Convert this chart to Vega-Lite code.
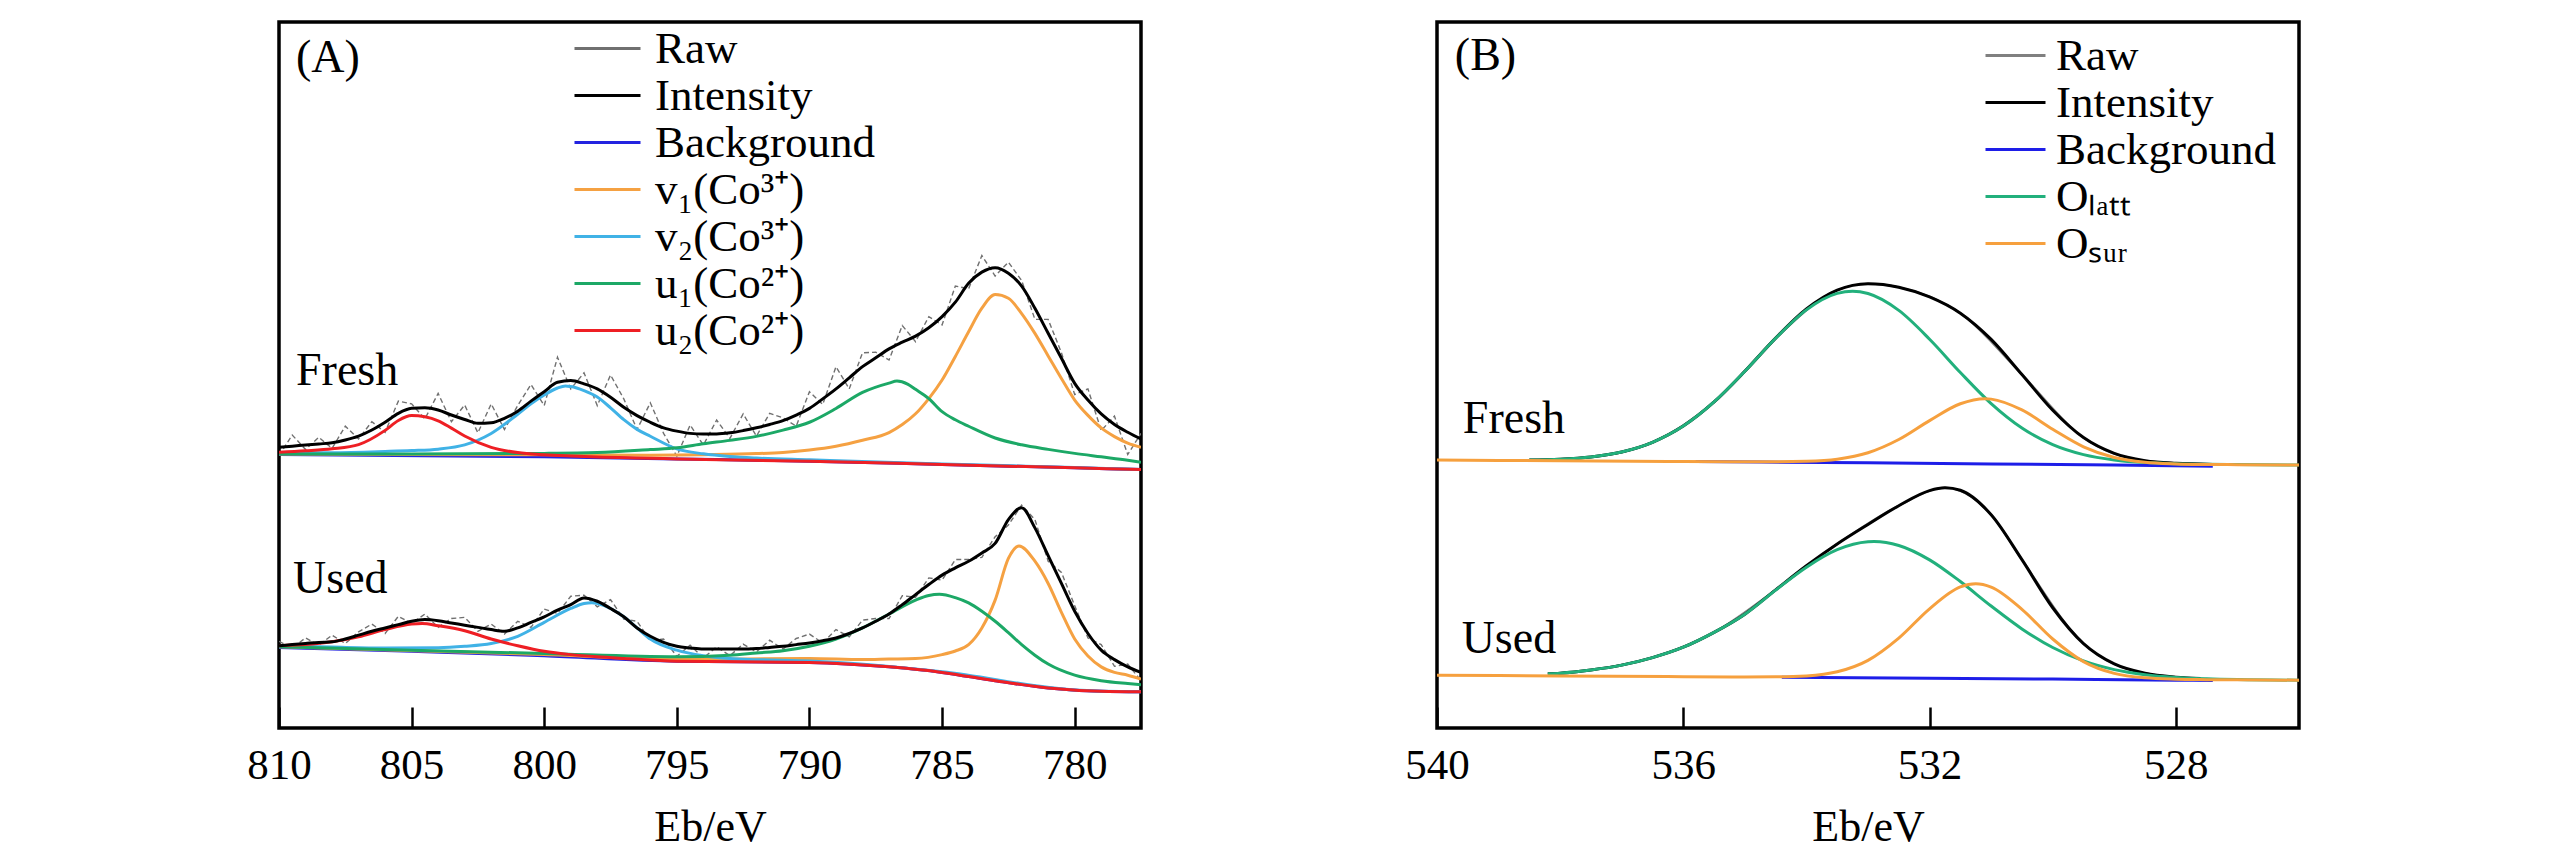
{
  "$schema": "https://vega.github.io/schema/vega-lite/v6.json",
  "background": "white",
  "padding": {"left": 245, "top": 20, "right": 0, "bottom": 0},
  "spacing": 296,
  "bounds": "flush",
  "resolve": {"scale": {"color": "independent"}, "legend": {"color": "independent"}},
  "config": {
    "font": "Liberation Serif",
    "view": {"stroke": "black", "strokeWidth": 3.5},
    "axis": {
      "grid": false, "domain": false, "tickSize": -21, "tickWidth": 2.5, "tickColor": "black",
      "labelFont": "Liberation Serif", "labelFontSize": 43, "labelColor": "black", "labelPadding": 37, "labelFlush": false,
      "titleFont": "Liberation Serif", "titleFontSize": 44, "titleFontWeight": "normal", "titleColor": "black", "titlePadding": 18
    },
    "legend": {
      "symbolStrokeWidth": 3, "labelFont": "Liberation Serif", "labelFontSize": 45,
      "labelColor": "black", "labelLimit": 500, "padding": 0, "rowPadding": 0, "symbolSize": 2025
    }
  },
  "datasets": {
    "a": [
      {"s":"Raw","g":"F","e":810,"i":49.0},{"s":"Raw","g":"F","e":809.5,"i":52.7},{"s":"Raw","g":"F","e":809,"i":50.1},{"s":"Raw","g":"F","e":808.5,"i":52.3},{"s":"Raw","g":"F","e":808,"i":50.3},{"s":"Raw","g":"F","e":807.5,"i":54.3},{"s":"Raw","g":"F","e":807,"i":52.0},{"s":"Raw","g":"F","e":806.5,"i":55.1},{"s":"Raw","g":"F","e":806,"i":53.2},{"s":"Raw","g":"F","e":805.5,"i":58.8},{"s":"Raw","g":"F","e":805,"i":58.3},{"s":"Raw","g":"F","e":804.5,"i":55.6},{"s":"Raw","g":"F","e":804,"i":60.2},{"s":"Raw","g":"F","e":803.5,"i":55.1},{"s":"Raw","g":"F","e":803,"i":58.1},{"s":"Raw","g":"F","e":802.5,"i":53.1},{"s":"Raw","g":"F","e":802,"i":58.3},{"s":"Raw","g":"F","e":801.5,"i":53.7},{"s":"Raw","g":"F","e":801,"i":58.0},{"s":"Raw","g":"F","e":800.5,"i":61.8},{"s":"Raw","g":"F","e":800,"i":58.0},{"s":"Raw","g":"F","e":799.5,"i":66.7},{"s":"Raw","g":"F","e":799,"i":61.0},{"s":"Raw","g":"F","e":798.5,"i":63.9},{"s":"Raw","g":"F","e":798,"i":58.0},{"s":"Raw","g":"F","e":797.5,"i":63.5},{"s":"Raw","g":"F","e":797,"i":59.2},{"s":"Raw","g":"F","e":796.5,"i":53.7},{"s":"Raw","g":"F","e":796,"i":58.5},{"s":"Raw","g":"F","e":795.5,"i":53.0},{"s":"Raw","g":"F","e":795,"i":48.9},{"s":"Raw","g":"F","e":794.5,"i":54.5},{"s":"Raw","g":"F","e":794,"i":50.9},{"s":"Raw","g":"F","e":793.5,"i":55.4},{"s":"Raw","g":"F","e":793,"i":52.1},{"s":"Raw","g":"F","e":792.5,"i":56.5},{"s":"Raw","g":"F","e":792,"i":52.5},{"s":"Raw","g":"F","e":791.5,"i":56.6},{"s":"Raw","g":"F","e":791,"i":55.8},{"s":"Raw","g":"F","e":790.5,"i":54.3},{"s":"Raw","g":"F","e":790,"i":60.5},{"s":"Raw","g":"F","e":789.5,"i":58.2},{"s":"Raw","g":"F","e":789,"i":65.0},{"s":"Raw","g":"F","e":788.5,"i":61.0},{"s":"Raw","g":"F","e":788,"i":67.5},{"s":"Raw","g":"F","e":787.5,"i":67.6},{"s":"Raw","g":"F","e":787,"i":66.2},{"s":"Raw","g":"F","e":786.5,"i":72.4},{"s":"Raw","g":"F","e":786,"i":69.5},{"s":"Raw","g":"F","e":785.5,"i":74.0},{"s":"Raw","g":"F","e":785,"i":72.5},{"s":"Raw","g":"F","e":784.5,"i":79.5},{"s":"Raw","g":"F","e":784,"i":79.0},{"s":"Raw","g":"F","e":783.5,"i":85.0},{"s":"Raw","g":"F","e":783,"i":81.3},{"s":"Raw","g":"F","e":782.5,"i":83.8},{"s":"Raw","g":"F","e":782,"i":80.5},{"s":"Raw","g":"F","e":781.5,"i":73.5},{"s":"Raw","g":"F","e":781,"i":73.5},{"s":"Raw","g":"F","e":780.5,"i":67.5},{"s":"Raw","g":"F","e":780,"i":60.0},{"s":"Raw","g":"F","e":779.5,"i":61.0},{"s":"Raw","g":"F","e":779,"i":53.5},{"s":"Raw","g":"F","e":778.5,"i":56.1},{"s":"Raw","g":"F","e":778,"i":49.2},{"s":"Raw","g":"F","e":777.5,"i":53.0},
      {"s":"Raw","g":"U","e":810,"i":15.6},{"s":"Raw","g":"U","e":809.5,"i":14.4},{"s":"Raw","g":"U","e":809,"i":16.2},{"s":"Raw","g":"U","e":808.5,"i":14.9},{"s":"Raw","g":"U","e":808,"i":16.7},{"s":"Raw","g":"U","e":807.5,"i":15.2},{"s":"Raw","g":"U","e":807,"i":17.3},{"s":"Raw","g":"U","e":806.5,"i":18.7},{"s":"Raw","g":"U","e":806,"i":17.0},{"s":"Raw","g":"U","e":805.5,"i":20.1},{"s":"Raw","g":"U","e":805,"i":18.8},{"s":"Raw","g":"U","e":804.5,"i":20.5},{"s":"Raw","g":"U","e":804,"i":18.1},{"s":"Raw","g":"U","e":803.5,"i":19.7},{"s":"Raw","g":"U","e":803,"i":19.9},{"s":"Raw","g":"U","e":802.5,"i":17.4},{"s":"Raw","g":"U","e":802,"i":18.7},{"s":"Raw","g":"U","e":801.5,"i":16.9},{"s":"Raw","g":"U","e":801,"i":19.2},{"s":"Raw","g":"U","e":800.5,"i":18.1},{"s":"Raw","g":"U","e":800,"i":21.4},{"s":"Raw","g":"U","e":799.5,"i":20.6},{"s":"Raw","g":"U","e":799,"i":23.7},{"s":"Raw","g":"U","e":798.5,"i":23.9},{"s":"Raw","g":"U","e":798,"i":21.8},{"s":"Raw","g":"U","e":797.5,"i":23.1},{"s":"Raw","g":"U","e":797,"i":19.6},{"s":"Raw","g":"U","e":796.5,"i":19.2},{"s":"Raw","g":"U","e":796,"i":15.7},{"s":"Raw","g":"U","e":795.5,"i":16.0},{"s":"Raw","g":"U","e":795,"i":12.9},{"s":"Raw","g":"U","e":794.5,"i":14.9},{"s":"Raw","g":"U","e":794,"i":12.6},{"s":"Raw","g":"U","e":793.5,"i":14.6},{"s":"Raw","g":"U","e":793,"i":13.0},{"s":"Raw","g":"U","e":792.5,"i":15.1},{"s":"Raw","g":"U","e":792,"i":13.7},{"s":"Raw","g":"U","e":791.5,"i":15.8},{"s":"Raw","g":"U","e":791,"i":14.2},{"s":"Raw","g":"U","e":790.5,"i":16.1},{"s":"Raw","g":"U","e":790,"i":16.9},{"s":"Raw","g":"U","e":789.5,"i":15.3},{"s":"Raw","g":"U","e":789,"i":17.7},{"s":"Raw","g":"U","e":788.5,"i":16.4},{"s":"Raw","g":"U","e":788,"i":19.4},{"s":"Raw","g":"U","e":787.5,"i":19.7},{"s":"Raw","g":"U","e":787,"i":19.7},{"s":"Raw","g":"U","e":786.5,"i":23.8},{"s":"Raw","g":"U","e":786,"i":23.5},{"s":"Raw","g":"U","e":785.5,"i":27.0},{"s":"Raw","g":"U","e":785,"i":26.6},{"s":"Raw","g":"U","e":784.5,"i":30.3},{"s":"Raw","g":"U","e":784,"i":30.3},{"s":"Raw","g":"U","e":783.5,"i":30.7},{"s":"Raw","g":"U","e":783,"i":34.4},{"s":"Raw","g":"U","e":782.5,"i":36.5},{"s":"Raw","g":"U","e":782,"i":40.1},{"s":"Raw","g":"U","e":781.5,"i":37.5},{"s":"Raw","g":"U","e":781,"i":30.0},{"s":"Raw","g":"U","e":780.5,"i":28.0},{"s":"Raw","g":"U","e":780,"i":22.0},{"s":"Raw","g":"U","e":779.5,"i":16.2},{"s":"Raw","g":"U","e":779,"i":15.0},{"s":"Raw","g":"U","e":778.5,"i":11.1},{"s":"Raw","g":"U","e":778,"i":11.5},{"s":"Raw","g":"U","e":777.5,"i":8.5},

      {"s":"Background","g":"F","e":810,"i":49.2},{"s":"Background","g":"F","e":800,"i":48.8},{"s":"Background","g":"F","e":795,"i":48.4},{"s":"Background","g":"F","e":790,"i":48.0},{"s":"Background","g":"F","e":785,"i":47.4},{"s":"Background","g":"F","e":780,"i":46.8},{"s":"Background","g":"F","e":777.5,"i":46.5},
      {"s":"Background","g":"U","e":810,"i":14.5},{"s":"Background","g":"U","e":805,"i":13.8},{"s":"Background","g":"U","e":800,"i":13.0},{"s":"Background","g":"U","e":795,"i":12.0},{"s":"Background","g":"U","e":790,"i":11.8},{"s":"Background","g":"U","e":787,"i":11.0},{"s":"Background","g":"U","e":785,"i":10.0},{"s":"Background","g":"U","e":783,"i":8.5},{"s":"Background","g":"U","e":781,"i":7.2},{"s":"Background","g":"U","e":779,"i":6.6},{"s":"Background","g":"U","e":777.5,"i":6.5},

      {"s":"v₁(Co³⁺)","g":"F","e":810,"i":49.3},{"s":"v₁(Co³⁺)","g":"F","e":805,"i":49.2},{"s":"v₁(Co³⁺)","g":"F","e":800,"i":49.15},{"s":"v₁(Co³⁺)","g":"F","e":796,"i":49.08},{"s":"v₁(Co³⁺)","g":"F","e":794,"i":49.17},{"s":"v₁(Co³⁺)","g":"F","e":792,"i":49.36},{"s":"v₁(Co³⁺)","g":"F","e":791,"i":49.58},{"s":"v₁(Co³⁺)","g":"F","e":790,"i":50.0},{"s":"v₁(Co³⁺)","g":"F","e":789,"i":50.68},{"s":"v₁(Co³⁺)","g":"F","e":788,"i":51.76},{"s":"v₁(Co³⁺)","g":"F","e":787,"i":53.14},{"s":"v₁(Co³⁺)","g":"F","e":786.5,"i":54.58},{"s":"v₁(Co³⁺)","g":"F","e":786,"i":56.52},{"s":"v₁(Co³⁺)","g":"F","e":785.5,"i":59.26},{"s":"v₁(Co³⁺)","g":"F","e":785,"i":62.6},{"s":"v₁(Co³⁺)","g":"F","e":784.5,"i":66.84},{"s":"v₁(Co³⁺)","g":"F","e":784,"i":71.28},{"s":"v₁(Co³⁺)","g":"F","e":783.5,"i":75.52},{"s":"v₁(Co³⁺)","g":"F","e":783,"i":77.96},{"s":"v₁(Co³⁺)","g":"F","e":782.5,"i":77.3},{"s":"v₁(Co³⁺)","g":"F","e":782,"i":74.54},{"s":"v₁(Co³⁺)","g":"F","e":781.5,"i":70.98},{"s":"v₁(Co³⁺)","g":"F","e":781,"i":66.92},{"s":"v₁(Co³⁺)","g":"F","e":780.5,"i":62.86},{"s":"v₁(Co³⁺)","g":"F","e":780,"i":59.0},{"s":"v₁(Co³⁺)","g":"F","e":779.5,"i":56.24},{"s":"v₁(Co³⁺)","g":"F","e":779,"i":53.98},{"s":"v₁(Co³⁺)","g":"F","e":778.5,"i":52.42},{"s":"v₁(Co³⁺)","g":"F","e":778,"i":51.26},{"s":"v₁(Co³⁺)","g":"F","e":777.5,"i":50.5},
      {"s":"v₁(Co³⁺)","g":"U","e":810,"i":14.6},{"s":"v₁(Co³⁺)","g":"U","e":800,"i":13.2},{"s":"v₁(Co³⁺)","g":"U","e":795,"i":12.35},{"s":"v₁(Co³⁺)","g":"U","e":790,"i":12.5},{"s":"v₁(Co³⁺)","g":"U","e":788,"i":12.3},{"s":"v₁(Co³⁺)","g":"U","e":787,"i":12.4},{"s":"v₁(Co³⁺)","g":"U","e":786,"i":12.5},{"s":"v₁(Co³⁺)","g":"U","e":785,"i":13.2},{"s":"v₁(Co³⁺)","g":"U","e":784.5,"i":13.85},{"s":"v₁(Co³⁺)","g":"U","e":784,"i":15.0},{"s":"v₁(Co³⁺)","g":"U","e":783.5,"i":18.0},{"s":"v₁(Co³⁺)","g":"U","e":783,"i":23.0},{"s":"v₁(Co³⁺)","g":"U","e":782.5,"i":30.5},{"s":"v₁(Co³⁺)","g":"U","e":782.1,"i":32.75},{"s":"v₁(Co³⁺)","g":"U","e":781.5,"i":30.0},{"s":"v₁(Co³⁺)","g":"U","e":781,"i":26.0},{"s":"v₁(Co³⁺)","g":"U","e":780.5,"i":20.8},{"s":"v₁(Co³⁺)","g":"U","e":780,"i":16.0},{"s":"v₁(Co³⁺)","g":"U","e":779.5,"i":12.95},{"s":"v₁(Co³⁺)","g":"U","e":779,"i":11.0},{"s":"v₁(Co³⁺)","g":"U","e":778.5,"i":10.0},{"s":"v₁(Co³⁺)","g":"U","e":778,"i":9.5},{"s":"v₁(Co³⁺)","g":"U","e":777.5,"i":8.8},

      {"s":"v₂(Co³⁺)","g":"F","e":810,"i":49.5},{"s":"v₂(Co³⁺)","g":"F","e":808,"i":49.52},{"s":"v₂(Co³⁺)","g":"F","e":806,"i":49.74},{"s":"v₂(Co³⁺)","g":"F","e":805,"i":49.9},{"s":"v₂(Co³⁺)","g":"F","e":804,"i":50.16},{"s":"v₂(Co³⁺)","g":"F","e":803,"i":50.92},{"s":"v₂(Co³⁺)","g":"F","e":802,"i":52.98},{"s":"v₂(Co³⁺)","g":"F","e":801,"i":56.44},{"s":"v₂(Co³⁺)","g":"F","e":800.5,"i":58.32},{"s":"v₂(Co³⁺)","g":"F","e":800,"i":59.9},{"s":"v₂(Co³⁺)","g":"F","e":799.5,"i":61.16},{"s":"v₂(Co³⁺)","g":"F","e":799.2,"i":61.54},{"s":"v₂(Co³⁺)","g":"F","e":799,"i":61.42},{"s":"v₂(Co³⁺)","g":"F","e":798.5,"i":60.68},{"s":"v₂(Co³⁺)","g":"F","e":798,"i":59.54},{"s":"v₂(Co³⁺)","g":"F","e":797.5,"i":57.6},{"s":"v₂(Co³⁺)","g":"F","e":797,"i":55.46},{"s":"v₂(Co³⁺)","g":"F","e":796.5,"i":53.72},{"s":"v₂(Co³⁺)","g":"F","e":796,"i":52.48},{"s":"v₂(Co³⁺)","g":"F","e":795,"i":50.2},{"s":"v₂(Co³⁺)","g":"F","e":794,"i":49.32},{"s":"v₂(Co³⁺)","g":"F","e":793,"i":48.84},{"s":"v₂(Co³⁺)","g":"F","e":792,"i":48.56},{"s":"v₂(Co³⁺)","g":"F","e":790,"i":48.25},{"s":"v₂(Co³⁺)","g":"F","e":785,"i":47.5},{"s":"v₂(Co³⁺)","g":"F","e":780,"i":46.85},{"s":"v₂(Co³⁺)","g":"F","e":777.5,"i":46.5},
      {"s":"v₂(Co³⁺)","g":"U","e":810,"i":14.75},{"s":"v₂(Co³⁺)","g":"U","e":808,"i":14.55},{"s":"v₂(Co³⁺)","g":"U","e":806,"i":14.4},{"s":"v₂(Co³⁺)","g":"U","e":804,"i":14.45},{"s":"v₂(Co³⁺)","g":"U","e":803,"i":14.7},{"s":"v₂(Co³⁺)","g":"U","e":802,"i":15.2},{"s":"v₂(Co³⁺)","g":"U","e":801,"i":16.5},{"s":"v₂(Co³⁺)","g":"U","e":800,"i":19.0},{"s":"v₂(Co³⁺)","g":"U","e":799,"i":21.5},{"s":"v₂(Co³⁺)","g":"U","e":798.5,"i":22.4},{"s":"v₂(Co³⁺)","g":"U","e":798.2,"i":22.55},{"s":"v₂(Co³⁺)","g":"U","e":798,"i":22.4},{"s":"v₂(Co³⁺)","g":"U","e":797.5,"i":21.5},{"s":"v₂(Co³⁺)","g":"U","e":797,"i":20.0},{"s":"v₂(Co³⁺)","g":"U","e":796.5,"i":18.0},{"s":"v₂(Co³⁺)","g":"U","e":796,"i":16.0},{"s":"v₂(Co³⁺)","g":"U","e":795,"i":14.0},{"s":"v₂(Co³⁺)","g":"U","e":794,"i":13.0},{"s":"v₂(Co³⁺)","g":"U","e":793,"i":12.5},{"s":"v₂(Co³⁺)","g":"U","e":792,"i":12.3},{"s":"v₂(Co³⁺)","g":"U","e":790,"i":12.05},{"s":"v₂(Co³⁺)","g":"U","e":785,"i":10.1},{"s":"v₂(Co³⁺)","g":"U","e":780,"i":6.85},{"s":"v₂(Co³⁺)","g":"U","e":777.5,"i":6.5},

      {"s":"u₁(Co²⁺)","g":"F","e":810,"i":49.3},{"s":"u₁(Co²⁺)","g":"F","e":805,"i":49.3},{"s":"u₁(Co²⁺)","g":"F","e":800,"i":49.4},{"s":"u₁(Co²⁺)","g":"F","e":798,"i":49.54},{"s":"u₁(Co²⁺)","g":"F","e":796,"i":50.08},{"s":"u₁(Co²⁺)","g":"F","e":795,"i":50.4},{"s":"u₁(Co²⁺)","g":"F","e":794,"i":51.12},{"s":"u₁(Co²⁺)","g":"F","e":793,"i":51.74},{"s":"u₁(Co²⁺)","g":"F","e":792,"i":52.46},{"s":"u₁(Co²⁺)","g":"F","e":791,"i":53.58},{"s":"u₁(Co²⁺)","g":"F","e":790,"i":55.0},{"s":"u₁(Co²⁺)","g":"F","e":789,"i":57.48},{"s":"u₁(Co²⁺)","g":"F","e":788,"i":60.36},{"s":"u₁(Co²⁺)","g":"F","e":787,"i":62.04},{"s":"u₁(Co²⁺)","g":"F","e":786.7,"i":62.4},{"s":"u₁(Co²⁺)","g":"F","e":786.3,"i":61.86},{"s":"u₁(Co²⁺)","g":"F","e":786,"i":60.92},{"s":"u₁(Co²⁺)","g":"F","e":785.5,"i":59.26},{"s":"u₁(Co²⁺)","g":"F","e":785,"i":56.9},{"s":"u₁(Co²⁺)","g":"F","e":784.5,"i":55.44},{"s":"u₁(Co²⁺)","g":"F","e":784,"i":54.28},{"s":"u₁(Co²⁺)","g":"F","e":783,"i":52.16},{"s":"u₁(Co²⁺)","g":"F","e":782,"i":50.94},{"s":"u₁(Co²⁺)","g":"F","e":781,"i":50.12},{"s":"u₁(Co²⁺)","g":"F","e":780,"i":49.4},{"s":"u₁(Co²⁺)","g":"F","e":779,"i":48.78},{"s":"u₁(Co²⁺)","g":"F","e":778,"i":48.16},{"s":"u₁(Co²⁺)","g":"F","e":777.5,"i":47.8},
      {"s":"u₁(Co²⁺)","g":"U","e":810,"i":14.6},{"s":"u₁(Co²⁺)","g":"U","e":805,"i":14.0},{"s":"u₁(Co²⁺)","g":"U","e":800,"i":13.4},{"s":"u₁(Co²⁺)","g":"U","e":795,"i":12.8},{"s":"u₁(Co²⁺)","g":"U","e":793,"i":13.1},{"s":"u₁(Co²⁺)","g":"U","e":792,"i":13.5},{"s":"u₁(Co²⁺)","g":"U","e":791,"i":13.9},{"s":"u₁(Co²⁺)","g":"U","e":790,"i":14.7},{"s":"u₁(Co²⁺)","g":"U","e":789,"i":16.0},{"s":"u₁(Co²⁺)","g":"U","e":788,"i":18.0},{"s":"u₁(Co²⁺)","g":"U","e":787,"i":20.5},{"s":"u₁(Co²⁺)","g":"U","e":786,"i":23.0},{"s":"u₁(Co²⁺)","g":"U","e":785.5,"i":23.85},{"s":"u₁(Co²⁺)","g":"U","e":785.1,"i":24.05},{"s":"u₁(Co²⁺)","g":"U","e":784.5,"i":23.45},{"s":"u₁(Co²⁺)","g":"U","e":784,"i":22.5},{"s":"u₁(Co²⁺)","g":"U","e":783.5,"i":21.0},{"s":"u₁(Co²⁺)","g":"U","e":783,"i":19.2},{"s":"u₁(Co²⁺)","g":"U","e":782.5,"i":17.15},{"s":"u₁(Co²⁺)","g":"U","e":782,"i":15.0},{"s":"u₁(Co²⁺)","g":"U","e":781.5,"i":13.1},{"s":"u₁(Co²⁺)","g":"U","e":781,"i":11.5},{"s":"u₁(Co²⁺)","g":"U","e":780,"i":9.5},{"s":"u₁(Co²⁺)","g":"U","e":779,"i":8.5},{"s":"u₁(Co²⁺)","g":"U","e":778,"i":8.0},{"s":"u₁(Co²⁺)","g":"U","e":777.5,"i":7.8},

      {"s":"u₂(Co²⁺)","g":"F","e":810,"i":49.6},{"s":"u₂(Co²⁺)","g":"F","e":809,"i":49.86},{"s":"u₂(Co²⁺)","g":"F","e":808,"i":50.22},{"s":"u₂(Co²⁺)","g":"F","e":807,"i":50.98},{"s":"u₂(Co²⁺)","g":"F","e":806,"i":53.54},{"s":"u₂(Co²⁺)","g":"F","e":805.5,"i":55.32},{"s":"u₂(Co²⁺)","g":"F","e":805,"i":56.2},{"s":"u₂(Co²⁺)","g":"F","e":804.5,"i":55.98},{"s":"u₂(Co²⁺)","g":"F","e":804,"i":55.26},{"s":"u₂(Co²⁺)","g":"F","e":803.5,"i":53.94},{"s":"u₂(Co²⁺)","g":"F","e":803,"i":52.52},{"s":"u₂(Co²⁺)","g":"F","e":802,"i":50.48},{"s":"u₂(Co²⁺)","g":"F","e":801,"i":49.54},{"s":"u₂(Co²⁺)","g":"F","e":800,"i":49.15},{"s":"u₂(Co²⁺)","g":"F","e":799,"i":48.92},{"s":"u₂(Co²⁺)","g":"F","e":798,"i":48.74},{"s":"u₂(Co²⁺)","g":"F","e":796,"i":48.53},{"s":"u₂(Co²⁺)","g":"F","e":795,"i":48.4},{"s":"u₂(Co²⁺)","g":"F","e":790,"i":48.0},{"s":"u₂(Co²⁺)","g":"F","e":785,"i":47.4},{"s":"u₂(Co²⁺)","g":"F","e":780,"i":46.8},{"s":"u₂(Co²⁺)","g":"F","e":777.5,"i":46.5},
      {"s":"u₂(Co²⁺)","g":"U","e":810,"i":14.8},{"s":"u₂(Co²⁺)","g":"U","e":809,"i":15.0},{"s":"u₂(Co²⁺)","g":"U","e":808,"i":15.5},{"s":"u₂(Co²⁺)","g":"U","e":807,"i":16.4},{"s":"u₂(Co²⁺)","g":"U","e":806,"i":17.7},{"s":"u₂(Co²⁺)","g":"U","e":805,"i":18.7},{"s":"u₂(Co²⁺)","g":"U","e":804.6,"i":18.8},{"s":"u₂(Co²⁺)","g":"U","e":804,"i":18.4},{"s":"u₂(Co²⁺)","g":"U","e":803,"i":17.5},{"s":"u₂(Co²⁺)","g":"U","e":802,"i":16.0},{"s":"u₂(Co²⁺)","g":"U","e":801,"i":14.8},{"s":"u₂(Co²⁺)","g":"U","e":800,"i":13.8},{"s":"u₂(Co²⁺)","g":"U","e":799,"i":13.2},{"s":"u₂(Co²⁺)","g":"U","e":798,"i":12.8},{"s":"u₂(Co²⁺)","g":"U","e":797,"i":12.5},{"s":"u₂(Co²⁺)","g":"U","e":795,"i":12.0},{"s":"u₂(Co²⁺)","g":"U","e":790,"i":11.8},{"s":"u₂(Co²⁺)","g":"U","e":787,"i":11.0},{"s":"u₂(Co²⁺)","g":"U","e":785,"i":10.0},{"s":"u₂(Co²⁺)","g":"U","e":783,"i":8.5},{"s":"u₂(Co²⁺)","g":"U","e":781,"i":7.2},{"s":"u₂(Co²⁺)","g":"U","e":779,"i":6.6},{"s":"u₂(Co²⁺)","g":"U","e":777.5,"i":6.5},

      {"s":"Intensity","g":"F","e":810,"i":50.5},{"s":"Intensity","g":"F","e":809.5,"i":50.7},{"s":"Intensity","g":"F","e":809,"i":50.9},{"s":"Intensity","g":"F","e":808.5,"i":51.1},{"s":"Intensity","g":"F","e":808,"i":51.3},{"s":"Intensity","g":"F","e":807.5,"i":51.8},{"s":"Intensity","g":"F","e":807,"i":52.5},{"s":"Intensity","g":"F","e":806.5,"i":53.6},{"s":"Intensity","g":"F","e":806,"i":55.0},{"s":"Intensity","g":"F","e":805.5,"i":56.6},{"s":"Intensity","g":"F","e":805,"i":57.5},{"s":"Intensity","g":"F","e":804.5,"i":57.6},{"s":"Intensity","g":"F","e":804,"i":57.2},{"s":"Intensity","g":"F","e":803.5,"i":56.3},{"s":"Intensity","g":"F","e":803,"i":55.5},{"s":"Intensity","g":"F","e":802.5,"i":54.8},{"s":"Intensity","g":"F","e":802,"i":54.9},{"s":"Intensity","g":"F","e":801.5,"i":55.7},{"s":"Intensity","g":"F","e":801,"i":57.0},{"s":"Intensity","g":"F","e":800.5,"i":58.8},{"s":"Intensity","g":"F","e":800,"i":60.5},{"s":"Intensity","g":"F","e":799.5,"i":62.2},{"s":"Intensity","g":"F","e":799,"i":62.5},{"s":"Intensity","g":"F","e":798.5,"i":61.9},{"s":"Intensity","g":"F","e":798,"i":61.0},{"s":"Intensity","g":"F","e":797.5,"i":59.5},{"s":"Intensity","g":"F","e":797,"i":57.7},{"s":"Intensity","g":"F","e":796.5,"i":56.2},{"s":"Intensity","g":"F","e":796,"i":55.0},{"s":"Intensity","g":"F","e":795.5,"i":54.0},{"s":"Intensity","g":"F","e":795,"i":53.4},{"s":"Intensity","g":"F","e":794.5,"i":53.0},{"s":"Intensity","g":"F","e":794,"i":52.9},{"s":"Intensity","g":"F","e":793.5,"i":52.9},{"s":"Intensity","g":"F","e":793,"i":53.1},{"s":"Intensity","g":"F","e":792.5,"i":53.5},{"s":"Intensity","g":"F","e":792,"i":54.0},{"s":"Intensity","g":"F","e":791.5,"i":54.6},{"s":"Intensity","g":"F","e":791,"i":55.3},{"s":"Intensity","g":"F","e":790.5,"i":56.3},{"s":"Intensity","g":"F","e":790,"i":57.5},{"s":"Intensity","g":"F","e":789.5,"i":59.2},{"s":"Intensity","g":"F","e":789,"i":61.0},{"s":"Intensity","g":"F","e":788.5,"i":63.0},{"s":"Intensity","g":"F","e":788,"i":65.0},{"s":"Intensity","g":"F","e":787.5,"i":66.6},{"s":"Intensity","g":"F","e":787,"i":68.2},{"s":"Intensity","g":"F","e":786.5,"i":69.4},{"s":"Intensity","g":"F","e":786,"i":70.5},{"s":"Intensity","g":"F","e":785.5,"i":72.0},{"s":"Intensity","g":"F","e":785,"i":74.0},{"s":"Intensity","g":"F","e":784.5,"i":76.6},{"s":"Intensity","g":"F","e":784,"i":80.0},{"s":"Intensity","g":"F","e":783.5,"i":82.0},{"s":"Intensity","g":"F","e":783,"i":82.8},{"s":"Intensity","g":"F","e":782.5,"i":81.8},{"s":"Intensity","g":"F","e":782,"i":79.5},{"s":"Intensity","g":"F","e":781.5,"i":75.5},{"s":"Intensity","g":"F","e":781,"i":71.0},{"s":"Intensity","g":"F","e":780.5,"i":66.5},{"s":"Intensity","g":"F","e":780,"i":62.0},{"s":"Intensity","g":"F","e":779.5,"i":59.0},{"s":"Intensity","g":"F","e":779,"i":56.5},{"s":"Intensity","g":"F","e":778.5,"i":54.6},{"s":"Intensity","g":"F","e":778,"i":53.2},{"s":"Intensity","g":"F","e":777.5,"i":52.0},
      {"s":"Intensity","g":"U","e":810,"i":14.8},{"s":"Intensity","g":"U","e":809.5,"i":15.0},{"s":"Intensity","g":"U","e":809,"i":15.2},{"s":"Intensity","g":"U","e":808.5,"i":15.4},{"s":"Intensity","g":"U","e":808,"i":15.5},{"s":"Intensity","g":"U","e":807.5,"i":16.0},{"s":"Intensity","g":"U","e":807,"i":16.7},{"s":"Intensity","g":"U","e":806.5,"i":17.4},{"s":"Intensity","g":"U","e":806,"i":18.0},{"s":"Intensity","g":"U","e":805.5,"i":18.6},{"s":"Intensity","g":"U","e":805,"i":19.2},{"s":"Intensity","g":"U","e":804.5,"i":19.5},{"s":"Intensity","g":"U","e":804,"i":19.3},{"s":"Intensity","g":"U","e":803.5,"i":18.9},{"s":"Intensity","g":"U","e":803,"i":18.5},{"s":"Intensity","g":"U","e":802.5,"i":18.1},{"s":"Intensity","g":"U","e":802,"i":17.7},{"s":"Intensity","g":"U","e":801.5,"i":17.4},{"s":"Intensity","g":"U","e":801,"i":18.0},{"s":"Intensity","g":"U","e":800.5,"i":19.0},{"s":"Intensity","g":"U","e":800,"i":20.0},{"s":"Intensity","g":"U","e":799.5,"i":21.2},{"s":"Intensity","g":"U","e":799,"i":22.2},{"s":"Intensity","g":"U","e":798.5,"i":23.4},{"s":"Intensity","g":"U","e":798,"i":22.8},{"s":"Intensity","g":"U","e":797.5,"i":21.5},{"s":"Intensity","g":"U","e":797,"i":20.0},{"s":"Intensity","g":"U","e":796.5,"i":18.0},{"s":"Intensity","g":"U","e":796,"i":16.5},{"s":"Intensity","g":"U","e":795.5,"i":15.4},{"s":"Intensity","g":"U","e":795,"i":14.7},{"s":"Intensity","g":"U","e":794.5,"i":14.4},{"s":"Intensity","g":"U","e":794,"i":14.2},{"s":"Intensity","g":"U","e":793.5,"i":14.2},{"s":"Intensity","g":"U","e":793,"i":14.2},{"s":"Intensity","g":"U","e":792.5,"i":14.2},{"s":"Intensity","g":"U","e":792,"i":14.3},{"s":"Intensity","g":"U","e":791.5,"i":14.5},{"s":"Intensity","g":"U","e":791,"i":14.7},{"s":"Intensity","g":"U","e":790.5,"i":15.0},{"s":"Intensity","g":"U","e":790,"i":15.3},{"s":"Intensity","g":"U","e":789.5,"i":15.7},{"s":"Intensity","g":"U","e":789,"i":16.2},{"s":"Intensity","g":"U","e":788.5,"i":17.0},{"s":"Intensity","g":"U","e":788,"i":18.0},{"s":"Intensity","g":"U","e":787.5,"i":19.2},{"s":"Intensity","g":"U","e":787,"i":20.5},{"s":"Intensity","g":"U","e":786.5,"i":22.2},{"s":"Intensity","g":"U","e":786,"i":24.0},{"s":"Intensity","g":"U","e":785.5,"i":25.8},{"s":"Intensity","g":"U","e":785,"i":27.5},{"s":"Intensity","g":"U","e":784.5,"i":28.8},{"s":"Intensity","g":"U","e":784,"i":30.0},{"s":"Intensity","g":"U","e":783.5,"i":31.5},{"s":"Intensity","g":"U","e":783,"i":33.2},{"s":"Intensity","g":"U","e":782.5,"i":37.5},{"s":"Intensity","g":"U","e":782,"i":39.6},{"s":"Intensity","g":"U","e":781.5,"i":36.0},{"s":"Intensity","g":"U","e":781,"i":31.0},{"s":"Intensity","g":"U","e":780.5,"i":26.0},{"s":"Intensity","g":"U","e":780,"i":21.0},{"s":"Intensity","g":"U","e":779.5,"i":17.0},{"s":"Intensity","g":"U","e":779,"i":14.0},{"s":"Intensity","g":"U","e":778.5,"i":12.3},{"s":"Intensity","g":"U","e":778,"i":11.0},{"s":"Intensity","g":"U","e":777.5,"i":10.0}
    ],
    "b": [
      {"s":"Raw","g":"F","e":538.5,"i":48.2},{"s":"Raw","g":"F","e":537.5,"i":48.76},{"s":"Raw","g":"F","e":536.5,"i":51.4},{"s":"Raw","g":"F","e":535.5,"i":58.65},{"s":"Raw","g":"F","e":534.5,"i":70.13},{"s":"Raw","g":"F","e":533.5,"i":78.76},{"s":"Raw","g":"F","e":533,"i":79.92},{"s":"Raw","g":"F","e":532.5,"i":79.3},{"s":"Raw","g":"F","e":531.5,"i":74.62},{"s":"Raw","g":"F","e":530.5,"i":63.59},{"s":"Raw","g":"F","e":529.5,"i":52.24},{"s":"Raw","g":"F","e":528.5,"i":48.08},{"s":"Raw","g":"F","e":527.4,"i":47.42},
      {"s":"Raw","g":"U","e":538.2,"i":9.75},{"s":"Raw","g":"U","e":537.5,"i":10.44},{"s":"Raw","g":"U","e":536.5,"i":12.67},{"s":"Raw","g":"U","e":535.5,"i":17.21},{"s":"Raw","g":"U","e":534.5,"i":24.85},{"s":"Raw","g":"U","e":533.5,"i":33.11},{"s":"Raw","g":"U","e":532.5,"i":39.99},{"s":"Raw","g":"U","e":531.75,"i":43.2},{"s":"Raw","g":"U","e":531,"i":38.36},{"s":"Raw","g":"U","e":530.5,"i":30.28},{"s":"Raw","g":"U","e":529.5,"i":15.18},{"s":"Raw","g":"U","e":528.5,"i":9.85},{"s":"Raw","g":"U","e":527.6,"i":8.9},

      {"s":"Intensity","g":"F","e":538.5,"i":48.2},{"s":"Intensity","g":"F","e":538,"i":48.35},{"s":"Intensity","g":"F","e":537.5,"i":48.76},{"s":"Intensity","g":"F","e":537,"i":49.66},{"s":"Intensity","g":"F","e":536.5,"i":51.4},{"s":"Intensity","g":"F","e":536,"i":54.32},{"s":"Intensity","g":"F","e":535.5,"i":58.65},{"s":"Intensity","g":"F","e":535,"i":64.17},{"s":"Intensity","g":"F","e":534.5,"i":70.13},{"s":"Intensity","g":"F","e":534,"i":75.37},{"s":"Intensity","g":"F","e":533.5,"i":78.76},{"s":"Intensity","g":"F","e":533.25,"i":79.62},{"s":"Intensity","g":"F","e":533,"i":79.92},{"s":"Intensity","g":"F","e":532.5,"i":79.3},{"s":"Intensity","g":"F","e":532,"i":77.55},{"s":"Intensity","g":"F","e":531.5,"i":74.62},{"s":"Intensity","g":"F","e":531,"i":69.9},{"s":"Intensity","g":"F","e":530.5,"i":63.59},{"s":"Intensity","g":"F","e":530,"i":57.16},{"s":"Intensity","g":"F","e":529.5,"i":52.24},{"s":"Intensity","g":"F","e":529,"i":49.39},{"s":"Intensity","g":"F","e":528.5,"i":48.08},{"s":"Intensity","g":"F","e":528,"i":47.61},{"s":"Intensity","g":"F","e":527.4,"i":47.42},
      {"s":"Intensity","g":"U","e":538.2,"i":9.75},{"s":"Intensity","g":"U","e":538,"i":9.87},{"s":"Intensity","g":"U","e":537.5,"i":10.44},{"s":"Intensity","g":"U","e":537,"i":11.31},{"s":"Intensity","g":"U","e":536.5,"i":12.67},{"s":"Intensity","g":"U","e":536,"i":14.54},{"s":"Intensity","g":"U","e":535.5,"i":17.21},{"s":"Intensity","g":"U","e":535,"i":20.48},{"s":"Intensity","g":"U","e":534.5,"i":24.85},{"s":"Intensity","g":"U","e":534,"i":29.19},{"s":"Intensity","g":"U","e":533.5,"i":33.11},{"s":"Intensity","g":"U","e":533,"i":36.62},{"s":"Intensity","g":"U","e":532.5,"i":39.99},{"s":"Intensity","g":"U","e":532,"i":42.7},{"s":"Intensity","g":"U","e":531.75,"i":43.2},{"s":"Intensity","g":"U","e":531.5,"i":42.76},{"s":"Intensity","g":"U","e":531,"i":38.36},{"s":"Intensity","g":"U","e":530.5,"i":30.28},{"s":"Intensity","g":"U","e":530,"i":21.63},{"s":"Intensity","g":"U","e":529.5,"i":15.18},{"s":"Intensity","g":"U","e":529,"i":11.53},{"s":"Intensity","g":"U","e":528.5,"i":9.85},{"s":"Intensity","g":"U","e":528,"i":9.15},{"s":"Intensity","g":"U","e":527.6,"i":8.9},

      {"s":"Background","g":"F","e":535.8,"i":47.93},{"s":"Background","g":"F","e":533,"i":47.7},{"s":"Background","g":"F","e":531,"i":47.5},{"s":"Background","g":"F","e":529,"i":47.3},{"s":"Background","g":"F","e":527.4,"i":47.1},
      {"s":"Background","g":"U","e":534.4,"i":9.15},{"s":"Background","g":"U","e":532,"i":8.95},{"s":"Background","g":"U","e":530,"i":8.8},{"s":"Background","g":"U","e":528,"i":8.6},{"s":"Background","g":"U","e":527.4,"i":8.55},

      {"s":"Oₗₐₜₜ","g":"F","e":538.5,"i":48.2},{"s":"Oₗₐₜₜ","g":"F","e":538,"i":48.35},{"s":"Oₗₐₜₜ","g":"F","e":537.5,"i":48.76},{"s":"Oₗₐₜₜ","g":"F","e":537,"i":49.66},{"s":"Oₗₐₜₜ","g":"F","e":536.5,"i":51.4},{"s":"Oₗₐₜₜ","g":"F","e":536,"i":54.32},{"s":"Oₗₐₜₜ","g":"F","e":535.5,"i":58.65},{"s":"Oₗₐₜₜ","g":"F","e":535,"i":64.17},{"s":"Oₗₐₜₜ","g":"F","e":534.5,"i":70.1},{"s":"Oₗₐₜₜ","g":"F","e":534,"i":75.22},{"s":"Oₗₐₜₜ","g":"F","e":533.5,"i":78.18},{"s":"Oₗₐₜₜ","g":"F","e":533.25,"i":78.57},{"s":"Oₗₐₜₜ","g":"F","e":533,"i":78.15},{"s":"Oₗₐₜₜ","g":"F","e":532.5,"i":75.12},{"s":"Oₗₐₜₜ","g":"F","e":532,"i":69.94},{"s":"Oₗₐₜₜ","g":"F","e":531.5,"i":63.95},{"s":"Oₗₐₜₜ","g":"F","e":531,"i":58.36},{"s":"Oₗₐₜₜ","g":"F","e":530.5,"i":53.97},{"s":"Oₗₐₜₜ","g":"F","e":530,"i":50.98},{"s":"Oₗₐₜₜ","g":"F","e":529.5,"i":49.18},{"s":"Oₗₐₜₜ","g":"F","e":529,"i":48.22},{"s":"Oₗₐₜₜ","g":"F","e":528.5,"i":47.74},{"s":"Oₗₐₜₜ","g":"F","e":528,"i":47.53},{"s":"Oₗₐₜₜ","g":"F","e":527.5,"i":47.43},{"s":"Oₗₐₜₜ","g":"F","e":527,"i":47.38},{"s":"Oₗₐₜₜ","g":"F","e":526,"i":47.3},
      {"s":"Oₗₐₜₜ","g":"U","e":538.2,"i":9.75},{"s":"Oₗₐₜₜ","g":"U","e":538,"i":9.87},{"s":"Oₗₐₜₜ","g":"U","e":537.5,"i":10.44},{"s":"Oₗₐₜₜ","g":"U","e":537,"i":11.31},{"s":"Oₗₐₜₜ","g":"U","e":536.5,"i":12.67},{"s":"Oₗₐₜₜ","g":"U","e":536,"i":14.54},{"s":"Oₗₐₜₜ","g":"U","e":535.5,"i":17.21},{"s":"Oₗₐₜₜ","g":"U","e":535,"i":20.48},{"s":"Oₗₐₜₜ","g":"U","e":534.5,"i":24.8},{"s":"Oₗₐₜₜ","g":"U","e":534,"i":28.93},{"s":"Oₗₐₜₜ","g":"U","e":533.5,"i":32.08},{"s":"Oₗₐₜₜ","g":"U","e":533,"i":33.5},{"s":"Oₗₐₜₜ","g":"U","e":532.9,"i":33.54},{"s":"Oₗₐₜₜ","g":"U","e":532.5,"i":32.84},{"s":"Oₗₐₜₜ","g":"U","e":532,"i":30.25},{"s":"Oₗₐₜₜ","g":"U","e":531.5,"i":26.34},{"s":"Oₗₐₜₜ","g":"U","e":531,"i":21.94},{"s":"Oₗₐₜₜ","g":"U","e":530.5,"i":17.83},{"s":"Oₗₐₜₜ","g":"U","e":530,"i":14.48},{"s":"Oₗₐₜₜ","g":"U","e":529.5,"i":12.06},{"s":"Oₗₐₜₜ","g":"U","e":529,"i":10.5},{"s":"Oₗₐₜₜ","g":"U","e":528.5,"i":9.59},{"s":"Oₗₐₜₜ","g":"U","e":528,"i":9.1},{"s":"Oₗₐₜₜ","g":"U","e":527.5,"i":8.85},{"s":"Oₗₐₜₜ","g":"U","e":527,"i":8.71},{"s":"Oₗₐₜₜ","g":"U","e":526,"i":8.6},

      {"s":"Oₛᵤᵣ","g":"F","e":540,"i":48.2},{"s":"Oₛᵤᵣ","g":"F","e":538,"i":48.07},{"s":"Oₛᵤᵣ","g":"F","e":536,"i":47.94},{"s":"Oₛᵤᵣ","g":"F","e":535,"i":47.88},{"s":"Oₛᵤᵣ","g":"F","e":534.5,"i":47.88},{"s":"Oₛᵤᵣ","g":"F","e":534,"i":47.97},{"s":"Oₛᵤᵣ","g":"F","e":533.5,"i":48.36},{"s":"Oₛᵤᵣ","g":"F","e":533,"i":49.52},{"s":"Oₛᵤᵣ","g":"F","e":532.5,"i":51.9},{"s":"Oₛᵤᵣ","g":"F","e":532,"i":55.3},{"s":"Oₛᵤᵣ","g":"F","e":531.5,"i":58.33},{"s":"Oₛᵤᵣ","g":"F","e":531.1,"i":59.24},{"s":"Oₛᵤᵣ","g":"F","e":531,"i":59.16},{"s":"Oₛᵤᵣ","g":"F","e":530.5,"i":57.21},{"s":"Oₛᵤᵣ","g":"F","e":530,"i":53.74},{"s":"Oₛᵤᵣ","g":"F","e":529.5,"i":50.59},{"s":"Oₛᵤᵣ","g":"F","e":529,"i":48.67},{"s":"Oₛᵤᵣ","g":"F","e":528.5,"i":47.8},{"s":"Oₛᵤᵣ","g":"F","e":528,"i":47.51},{"s":"Oₛᵤᵣ","g":"F","e":527.5,"i":47.41},{"s":"Oₛᵤᵣ","g":"F","e":527,"i":47.37},{"s":"Oₛᵤᵣ","g":"F","e":526,"i":47.3},
      {"s":"Oₛᵤᵣ","g":"U","e":540,"i":9.5},{"s":"Oₛᵤᵣ","g":"U","e":538,"i":9.37},{"s":"Oₛᵤᵣ","g":"U","e":536,"i":9.24},{"s":"Oₛᵤᵣ","g":"U","e":535,"i":9.18},{"s":"Oₛᵤᵣ","g":"U","e":534.5,"i":9.2},{"s":"Oₛᵤᵣ","g":"U","e":534,"i":9.37},{"s":"Oₛᵤᵣ","g":"U","e":533.5,"i":10.11},{"s":"Oₛᵤᵣ","g":"U","e":533,"i":12.17},{"s":"Oₛᵤᵣ","g":"U","e":532.5,"i":16.17},{"s":"Oₛᵤᵣ","g":"U","e":532,"i":21.44},{"s":"Oₛᵤᵣ","g":"U","e":531.5,"i":25.38},{"s":"Oₛᵤᵣ","g":"U","e":531.25,"i":25.94},{"s":"Oₛᵤᵣ","g":"U","e":531,"i":25.34},{"s":"Oₛᵤᵣ","g":"U","e":530.5,"i":21.34},{"s":"Oₛᵤᵣ","g":"U","e":530,"i":16.01},{"s":"Oₛᵤᵣ","g":"U","e":529.5,"i":11.94},{"s":"Oₛᵤᵣ","g":"U","e":529,"i":9.82},{"s":"Oₛᵤᵣ","g":"U","e":528.5,"i":9.02},{"s":"Oₛᵤᵣ","g":"U","e":528,"i":8.78},{"s":"Oₛᵤᵣ","g":"U","e":527.5,"i":8.7},{"s":"Oₛᵤᵣ","g":"U","e":527,"i":8.66},{"s":"Oₛᵤᵣ","g":"U","e":526,"i":8.6}
    ],
    "ta": [
      {"t":"(A)","e":809.36,"i":120.5},
      {"t":"Fresh","e":809.36,"i":64.2},
      {"t":"Used","e":809.47,"i":26.8}
    ],
    "tb": [
      {"t":"(B)","e":539.71,"i":120.9},
      {"t":"Fresh","e":539.58,"i":55.6},
      {"t":"Used","e":539.6,"i":16.0}
    ]
  },
  "hconcat": [
    {
      "width": 862,
      "height": 706,
      "encoding": {
        "x": {
          "field": "e", "type": "quantitative",
          "scale": {"domain": [777.5, 810], "reverse": true, "nice": false, "zero": false},
          "axis": {"title": "Eb/eV", "values": [810, 805, 800, 795, 790, 785, 780]}
        },
        "y": {
          "field": "i", "type": "quantitative",
          "scale": {"domain": [0, 127], "nice": false, "zero": false},
          "axis": null
        }
      },
      "layer": [
        {
          "data": {"name": "a"},
          "transform": [{"filter": "datum.s === 'Raw'"}],
          "mark": {"type": "line", "strokeWidth": 1.4, "strokeDash": [5, 3], "clip": true},
          "encoding": {
            "color": {
              "field": "s", "type": "nominal",
              "scale": {
                "domain": ["Raw", "Intensity", "Background", "v₁(Co³⁺)", "v₂(Co³⁺)", "u₁(Co²⁺)", "u₂(Co²⁺)"],
                "range": ["#707070", "#000000", "#2323e0", "#f5a142", "#40b2e6", "#1ca866", "#ee1f24"]
              },
              "legend": {"title": null, "orient": "none", "legendX": 304.5, "legendY": 2.5, "symbolType": "M-1.467,0L1.467,0", "labelOffset": 23.5}
            },
            "detail": {"field": "g"}
          }
        },
        {
          "data": {"name": "a"},
          "transform": [{"filter": "datum.s !== 'Raw'"}],
          "mark": {"type": "line", "interpolate": "monotone", "strokeWidth": 3, "clip": true},
          "encoding": {
            "color": {
              "field": "s", "type": "nominal",
              "scale": {
                "domain": ["Raw", "Intensity", "Background", "v₁(Co³⁺)", "v₂(Co³⁺)", "u₁(Co²⁺)", "u₂(Co²⁺)"],
                "range": ["#707070", "#000000", "#2323e0", "#f5a142", "#40b2e6", "#1ca866", "#ee1f24"]
              },
              "legend": {"title": null, "orient": "none", "legendX": 304.5, "legendY": 2.5, "symbolType": "M-1.467,0L1.467,0", "labelOffset": 23.5}
            },
            "detail": {"field": "g"}
          }
        },
        {
          "data": {"name": "ta"},
          "mark": {"type": "text", "align": "left", "baseline": "middle", "font": "Liberation Serif", "fontSize": 46, "color": "black"},
          "encoding": {"text": {"field": "t"}}
        }
      ]
    },
    {
      "width": 862,
      "height": 706,
      "encoding": {
        "x": {
          "field": "e", "type": "quantitative",
          "scale": {"domain": [526, 540], "reverse": true, "nice": false, "zero": false},
          "axis": {"title": "Eb/eV", "values": [540, 536, 532, 528]}
        },
        "y": {
          "field": "i", "type": "quantitative",
          "scale": {"domain": [0, 127], "nice": false, "zero": false},
          "axis": null
        }
      },
      "layer": [
        {
          "data": {"name": "b"},
          "transform": [{"filter": "datum.s === 'Raw'"}],
          "mark": {"type": "line", "interpolate": "monotone", "strokeWidth": 2, "clip": true},
          "encoding": {
            "color": {
              "field": "s", "type": "nominal",
              "scale": {
                "domain": ["Raw", "Intensity", "Background", "Oₗₐₜₜ", "Oₛᵤᵣ"],
                "range": ["#808080", "#000000", "#1e1ee8", "#22b07c", "#f6a03e"]
              },
              "legend": {"title": null, "orient": "none", "legendX": 554.5, "legendY": 9.5, "symbolType": "M-1.333,0L1.333,0", "labelOffset": 16.5}
            },
            "detail": {"field": "g"}
          }
        },
        {
          "data": {"name": "b"},
          "transform": [{"filter": "datum.s !== 'Raw'"}],
          "mark": {"type": "line", "interpolate": "monotone", "strokeWidth": 3, "clip": true},
          "encoding": {
            "color": {
              "field": "s", "type": "nominal",
              "scale": {
                "domain": ["Raw", "Intensity", "Background", "Oₗₐₜₜ", "Oₛᵤᵣ"],
                "range": ["#808080", "#000000", "#1e1ee8", "#22b07c", "#f6a03e"]
              },
              "legend": {"title": null, "orient": "none", "legendX": 554.5, "legendY": 9.5, "symbolType": "M-1.333,0L1.333,0", "labelOffset": 16.5}
            },
            "detail": {"field": "g"}
          }
        },
        {
          "data": {"name": "tb"},
          "mark": {"type": "text", "align": "left", "baseline": "middle", "font": "Liberation Serif", "fontSize": 46, "color": "black"},
          "encoding": {"text": {"field": "t"}}
        }
      ]
    }
  ]
}
